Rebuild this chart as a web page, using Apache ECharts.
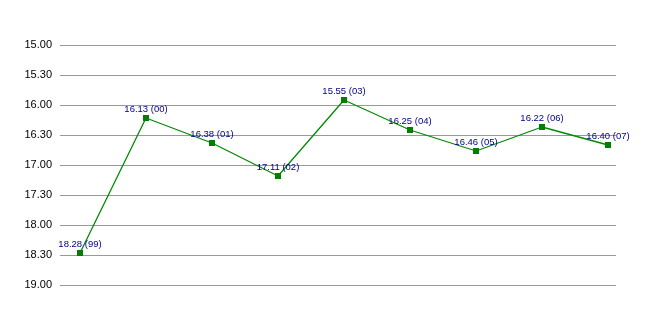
<!DOCTYPE html>
<html><head><meta charset="utf-8">
<script src="https://cdn.jsdelivr.net/npm/echarts@6/dist/echarts.min.js"></script>
<style>html,body{margin:0;padding:0;background:#fff}#c{width:656px;height:315px}</style>
</head><body><div id="c"></div>
<script>
const categories = ['99','00','01','02','03','04','05','06','07'];
const times = ['18.28','16.13','16.38','17.11','15.55','16.25','16.46','16.22','16.40'];
const yTicks = ['15.00','15.30','16.00','16.30','17.00','17.30','18.00','18.30','19.00'];

function toSec(s){const p=s.split('.');return (+p[0])*60+(+p[1]);}
function fmt(v){const m=Math.floor(v/60), s=Math.round(v-m*60);return m+'.'+(s<10?'0':'')+s;}

const font = '"Liberation Sans",Arial,sans-serif';
const data = times.map((t,i)=>[i,toSec(t)]);
const chart = echarts.init(document.getElementById('c'));
chart.setOption({
  animation:false,
  backgroundColor:'#fff',
  grid:{left:60,right:40,top:45,bottom:30},
  xAxis:{type:'value',min:-0.303,max:8.121,show:false},
  yAxis:{type:'value',inverse:true,min:toSec(yTicks[0]),max:toSec(yTicks[yTicks.length-1]),interval:30,
    axisLine:{show:false},axisTick:{show:false},
    axisLabel:{formatter:v=>fmt(v),color:'#000',fontFamily:font,fontSize:11,margin:8},
    splitLine:{lineStyle:{color:'#999',width:1}}},
  series:[{type:'line',data:data,symbol:'rect',symbolSize:6,
    lineStyle:{color:'#008c00',width:1.3},itemStyle:{color:'#008000'},
    label:{show:true,position:'top',distance:1,color:'#00008b',fontFamily:font,fontSize:9.5,
      formatter:p=>times[p.dataIndex]+' ('+categories[p.dataIndex]+')'}}]
});
</script></body></html>
